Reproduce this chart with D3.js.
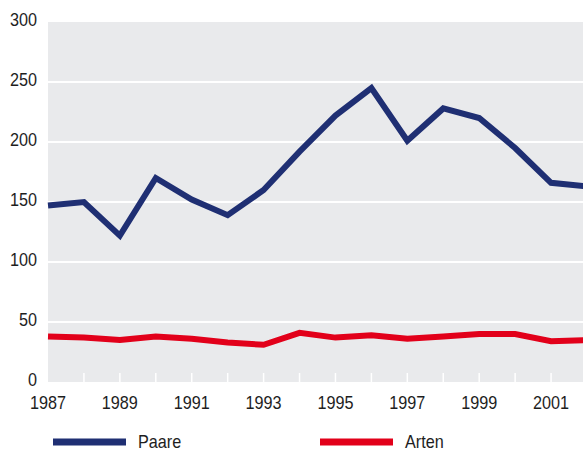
<!DOCTYPE html>
<html>
<head>
<meta charset="utf-8">
<script src="https://cdn.jsdelivr.net/npm/d3@7"></script>
<style>
  body { margin: 0; background: #fff; }
  text { font-family: "Liberation Sans", Arial, sans-serif; fill: #1e1e1e; }
</style>
</head>
<body>
<svg id="chart"></svg>
<script>
// data
const years = [1987, 1988, 1989, 1990, 1991, 1992, 1993, 1994, 1995, 1996, 1997, 1998, 1999, 2000, 2001, 2002];
const paare = [147, 150, 122, 170, 152, 139, 160, 192, 222, 245, 201, 228, 220, 195, 166, 163];
const arten = [38, 37, 35, 38, 36, 33, 31, 41, 37, 39, 36, 38, 40, 40, 34, 35];
const yTicks = [0, 50, 100, 150, 200, 250, 300];
const xLabels = [1987, 1989, 1991, 1993, 1995, 1997, 1999, 2001];
const seriesNames = ['Paare', 'Arten'];
const seriesColors = ['#1f2f73', '#e2001a'];

const width = 583, height = 452;
const svg = d3.select('#chart').attr('width', width).attr('height', height);

const margin = {top: 22, left: 48};

const x = d3.scaleLinear().domain([1987, 2002]).range([margin.left, 587]);
const y = d3.scaleLinear().domain([0, 300]).range([382, margin.top]);

// condensed look: squeeze text horizontally
const squeeze = 0.9;
const placeText = (sel, fx, fy) => sel.attr('transform', (d, i) => `translate(${fx(d, i)},${fy(d, i)}) scale(${squeeze},1)`);

// gray plot background
svg.append('rect')
    .attr('x', x(1987)).attr('y', y(300))
    .attr('width', width - x(1987)).attr('height', y(0) - y(300))
    .attr('fill', '#e9eaec');

// white gridlines
svg.append('g').selectAll('line').data(yTicks.filter(d => d > 0 && d < 300)).join('line')
    .attr('x1', x(1987)).attr('x2', width)
    .attr('y1', d => y(d)).attr('y2', d => y(d))
    .attr('stroke', '#fff').attr('stroke-width', 2);

// white year ticks inside the plot
svg.append('g').selectAll('line').data(years.slice(1)).join('line')
    .attr('x1', d => x(d)).attr('x2', d => x(d))
    .attr('y1', y(0) - 9).attr('y2', y(0))
    .attr('stroke', '#fff').attr('stroke-width', 1.5);

// y labels
svg.append('g').selectAll('text').data(yTicks).join('text')
    .call(placeText, () => 37, d => y(d) - 2)
    .attr('dy', '0.35em')
    .attr('text-anchor', 'end')
    .attr('font-size', 18)
    .text(d => d);

// x labels
svg.append('g').selectAll('text').data(xLabels).join('text')
    .call(placeText, d => x(d), () => 409)
    .attr('text-anchor', 'middle')
    .attr('font-size', 18)
    .text(d => d);

// lines
const line = d3.line().x((d, i) => x(years[i])).y(d => y(d));
[paare, arten].forEach((vals, i) => {
    svg.append('path')
        .datum(vals)
        .attr('d', line)
        .attr('fill', 'none')
        .attr('stroke', seriesColors[i])
        .attr('stroke-width', 6)
        .attr('stroke-linejoin', 'miter');
});

// legend
const legendX = [53, 320];
seriesNames.forEach((name, i) => {
    const g = svg.append('g').attr('transform', `translate(${legendX[i]},442)`);
    g.append('line')
        .attr('x1', 0).attr('x2', 73)
        .attr('stroke', seriesColors[i]).attr('stroke-width', 7);
    g.append('text')
        .attr('transform', `translate(85,6) scale(${squeeze},1)`)
        .attr('font-size', 18)
        .text(name);
});
</script>
</body>
</html>
